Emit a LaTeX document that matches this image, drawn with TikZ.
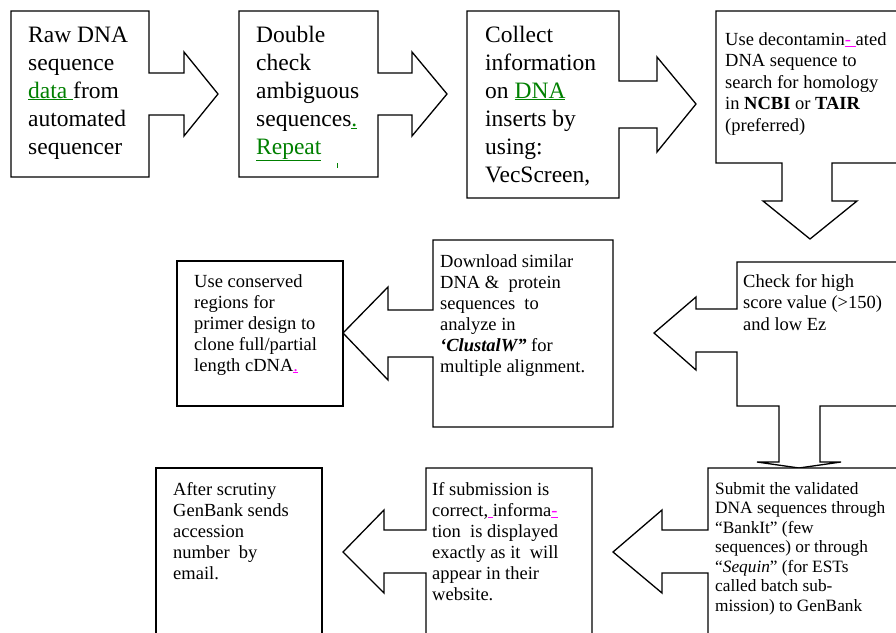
\documentclass[tikz,border=0pt]{standalone}
\usepackage{fontspec}
\setmainfont{Liberation Serif}
\definecolor{ulgreen}{RGB}{0,128,0}
\definecolor{ulmag}{RGB}{255,0,255}
\newcommand{\gul}[1]{\textcolor{ulgreen}{\underline{#1}}}
\newcommand{\mul}[1]{\textcolor{ulmag}{\underline{#1}}}
\newcommand{\txtblock}[3]{\parbox[t]{8cm}{\raggedright\fontsize{#1}{#2}\selectfont #3}}
\tikzset{
  callout/.style={draw=black, line width=1.3pt, line join=miter, fill=white},
  txt/.style={anchor=base west, inner sep=0pt}
}
\begin{document}
\begin{tikzpicture}[x=1pt, y=-1pt]
\useasboundingbox (0,0) rectangle (896,632);
\clip (0,0) rectangle (896,632);
\fill[white] (0,0) rectangle (896,632);

% Row 1
\draw[callout] (11,11) -- (149,11) -- (149,73) -- (184,73) -- (184,52) -- (218,94)
  -- (184,136) -- (184,115) -- (149,115) -- (149,177) -- (11,177) -- cycle;
\draw[callout] (239,11) -- (378,11) -- (378,73) -- (412,73) -- (412,52) -- (447,94)
  -- (412,136) -- (412,115) -- (378,115) -- (378,177) -- (239,177) -- cycle;
\draw[callout] (467,11) -- (619,11) -- (619,81) -- (657,81) -- (657,57) -- (696,104)
  -- (657,152) -- (657,128) -- (619,128) -- (619,198) -- (467,198) -- cycle;
\draw[callout] (716,11) -- (910,11) -- (910,163) -- (832,163) -- (832,201) -- (857,201)
  -- (810,239) -- (763,201) -- (782,201) -- (782,163) -- (716,163) -- cycle;

% Row 2
\draw[callout] (177,261) rectangle (343,406);
\draw[callout] (433,240) -- (613,240) -- (613,427) -- (433,427) -- (433,357) -- (388,357)
  -- (388,380) -- (343,333) -- (388,287) -- (388,310) -- (433,310) -- cycle;
\draw[callout] (737,262) -- (910,262) -- (910,406) -- (820,406) -- (820,462) -- (841,462)
  -- (799,468) -- (757,462) -- (779,462) -- (779,406) -- (737,406) -- (737,352)
  -- (696,352) -- (696,370) -- (654,333) -- (696,297) -- (696,309) -- (737,309) -- cycle;

% Row 3
\draw[callout] (156,468) rectangle (322,645);
\draw[callout] (426,468) -- (592,468) -- (592,645) -- (426,645) -- (426,573) -- (384,573)
  -- (384,593) -- (343,552) -- (384,510) -- (384,530) -- (426,530) -- cycle;
\draw[callout] (708,468) -- (910,468) -- (910,645) -- (708,645) -- (708,573) -- (662,573)
  -- (662,593) -- (613,552) -- (662,510) -- (662,530) -- (708,530) -- cycle;

% Texts
\node[txt] (t1) at (28,42) {\txtblock{23.5}{28}{Raw DNA\\ sequence\\ \gul{data\ }from\\ automated\\ sequencer}};
\node[txt] (t2) at (256,42) {\txtblock{23.5}{28}{Double\\ check\\ ambiguous\\ sequences\gul{.}\\ \gul{Repeat}}};
\fill[ulgreen] (336.6,163) rectangle (337.6,168);
\node[txt] (t3) at (485,42) {\txtblock{23.5}{28}{Collect\\ information\\ on \gul{DNA}\\ inserts by\\ using:\\ VecScreen,}};
\node[txt] (t4) at (725,45) {\txtblock{18.5}{21.5}{Use decontamin\mul{-\ }ated\\ DNA sequence to\\ search for homology\\ in \textbf{NCBI} or \textbf{TAIR}\\ (preferred)}};
\node[txt] (t5) at (194,287) {\txtblock{18.5}{21}{Use conserved\\ regions for\\ primer design to\\ clone full/partial\\ length cDNA\mul{.}}};
\node[txt] (t6) at (440,267) {\txtblock{18.5}{21}{Download similar\\ DNA \&\ \ protein\\ sequences\ \ to\\ analyze in\\ \textbf{\textit{‘ClustalW”}} for\\ multiple alignment.}};
\node[txt] (t7) at (743,287) {\txtblock{18.5}{21.5}{Check for high\\ score value (>150)\\ and low Ez}};
\node[txt] (t8) at (715,494) {\txtblock{17.3}{19.5}{Submit the validated\\ DNA sequences through\\ “BankIt” (few\\ sequences) or through\\ “\textit{Sequin}” (for ESTs\\ called batch sub-\\ mission) to GenBank}};
\node[txt] (t9) at (173,495) {\txtblock{18.5}{21}{After scrutiny\\ GenBank sends\\ accession\\ number\ \ by\\ email.}};
\node[txt] (t10) at (432,495) {\txtblock{18.5}{21}{If submission is\\ correct,\mul{\ }informa\mul{-}\\ tion\ \ is displayed\\ exactly as it\ \ will\\ appear in their\\ website.}};
\end{tikzpicture}
\end{document}
